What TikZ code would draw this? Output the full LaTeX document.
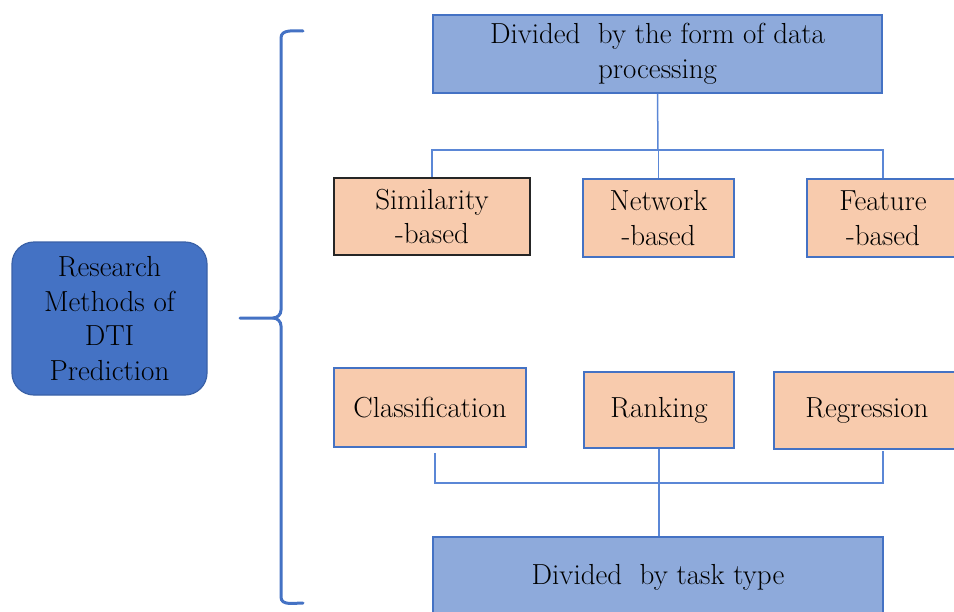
\documentclass[tikz,border=0pt]{standalone}
\usepackage{fontspec}
\definecolor{dblue}{HTML}{4472C4}
\definecolor{lblue}{HTML}{8EAADB}
\definecolor{peach}{HTML}{F8CBAD}
\definecolor{lineblue}{HTML}{5B87D6}
\begin{document}
\begin{tikzpicture}[x=1pt,y=-1pt,
  txt/.style={font=\fontsize{29}{34.5}\selectfont, text=black, align=center, inner sep=0pt},
  rootbox/.style={txt, draw=dblue!85!black, line width=1.2pt, fill=dblue, rounded corners=22pt, minimum width=195pt, minimum height=153pt},
  headbox/.style={txt, draw=dblue, line width=1.5pt, fill=lblue, minimum width=449pt, minimum height=78pt},
  leafbox/.style={txt, draw=dblue, line width=1.5pt, fill=peach, minimum height=77pt},
  conn/.style={draw=lineblue, line width=1.5pt},
  brace/.style={draw=dblue, line width=3pt, line cap=round}]
\useasboundingbox (0,0) rectangle (954,611);

\node[rootbox] (root) at (109.5,318.5) {Research\\Methods of\\DTI\\Prediction};

\draw[brace] (303,31) to[out=180,in=90] (281,38) -- (281,310) to[out=-90,in=0] (273,318) -- (240,318);
\draw[brace] (273,318) to[out=0,in=90] (281,326) -- (281,597) to[out=-90,in=180] (303,603);

\node[headbox] (top) at (657.5,54) {Divided\ \ by the form of data\\processing};

\node[leafbox, draw=black!85, minimum width=196pt] (sim) at (432,216.5) {Similarity\\-based};
\node[leafbox, minimum width=151pt, minimum height=78pt] (net) at (658.5,218) {Network\\-based};
\node[leafbox, minimum width=152pt, minimum height=78pt] (feat) at (883,218) {Feature\\-based};

\coordinate (hub1) at (658,150);
\draw[conn] (top.south) -- (hub1);
\draw[conn] (sim.north) -- (sim.north |- hub1) -- (feat.north |- hub1) -- (feat.north);
\draw[conn] (net.north) -- (net.north |- hub1);

\node[leafbox, minimum width=192pt, minimum height=79pt] (cls) at (430,407.5) {Classification};
\node[leafbox, minimum width=150pt, minimum height=76pt] (rank) at (659,410) {Ranking};
\node[leafbox, minimum width=186pt] (reg) at (867,410.5) {Regression};

\node[headbox, minimum width=450pt, minimum height=80pt] (bot) at (658,577) {Divided\ \ by task type};

\coordinate (c1) at (435,453);
\coordinate (c2) at (435,483);
\coordinate (c3) at (883,483);
\coordinate (c4) at (883,451);
\draw[conn] (c1) -- (c2) -- (c3) -- (c4);
\draw[conn] (rank.south) -- (bot.north -| rank.south);
\end{tikzpicture}
\end{document}
